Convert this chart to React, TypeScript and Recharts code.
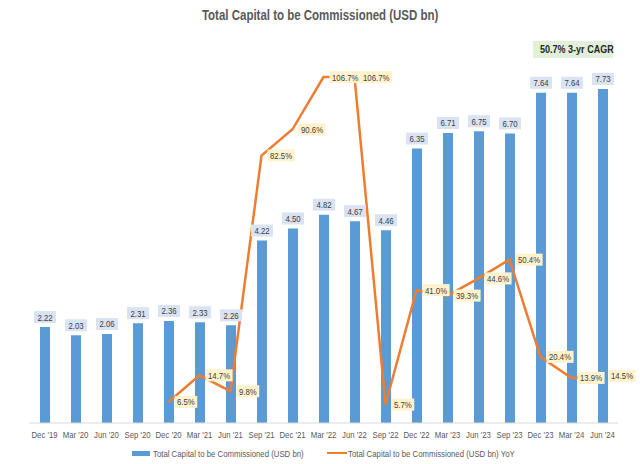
import React from 'react'
import { ComposedChart, Bar, Line, XAxis, YAxis, LabelList } from 'recharts'

const CATEGORIES = [
  "Dec '19", "Mar '20", "Jun '20", "Sep '20", "Dec '20", "Mar '21", "Jun '21",
  "Sep '21", "Dec '21", "Mar '22", "Jun '22", "Sep '22", "Dec '22", "Mar '23",
  "Jun '23", "Sep '23", "Dec '23", "Mar '24", "Jun '24",
]
const CAPITAL = [
  2.22, 2.03, 2.06, 2.31, 2.36, 2.33, 2.26, 4.22, 4.5, 4.82, 4.67, 4.46,
  6.35, 6.71, 6.75, 6.7, 7.64, 7.64, 7.73,
]
const YOY: (number | null)[] = [
  null, null, null, null, 6.5, 14.7, 9.8, 82.5, 90.6, 106.7, 106.7, 5.7,
  41.0, 39.3, 44.6, 50.4, 20.4, 13.9, 14.5,
]

const data = CATEGORIES.map((name, i) => ({ name, capital: CAPITAL[i], yoy: YOY[i] }))

// no narrow font installed, so squeeze Liberation Sans to roughly Calibri width
const FONT = "'Liberation Sans', Arial, sans-serif"
const SQ = 0.82
const BLUE = '#5B9BD5'
const ORANGE = '#ED7D31'
const TEXT = '#595959'
const LABEL = '#404040'

function Squeezed({ x, y, size, anchor = 'start', fill = LABEL, children }: any) {
  return (
    <text
      transform={`translate(${x},${y}) scale(${SQ},1)`}
      textAnchor={anchor}
      fontSize={size}
      fill={fill}
      fontFamily={FONT}
    >
      {children}
    </text>
  )
}

function BarValue(props: any) {
  const { x, y, width, value } = props
  if (value == null) return null
  const cx = Number(x) + Number(width) / 2
  const top = Number(y) - 16
  return (
    <g>
      <rect x={cx - 11} y={top} width={22} height={12} fill="#DAE3F3" />
      <Squeezed x={cx} y={top + 9.5} size={9.5} anchor="middle">
        {value.toFixed(2)}
      </Squeezed>
    </g>
  )
}

function YoyValue(props: any) {
  const { x, y, value } = props
  if (value == null) return null
  const label = `${value.toFixed(1)}%`
  const chars = label.length - 2
  const w = (chars * 0.556 + 0.278 + 0.889) * 9.5 * SQ + 5
  return (
    <g>
      <rect x={x + 6} y={y - 6} width={w} height={12} fill="#FFF2CC" />
      <Squeezed x={x + 8.5} y={y + 3.5} size={9.5}>
        {label}
      </Squeezed>
    </g>
  )
}

function Tick(props: any) {
  const { x, y, payload } = props
  return (
    <Squeezed x={x} y={y + 7} size={9.5} anchor="middle" fill={TEXT}>
      {payload.value}
    </Squeezed>
  )
}

const squeezeBox = { transform: `scaleX(${SQ})`, transformOrigin: 'left center', whiteSpace: 'nowrap' as const }

export default function App() {
  return (
    <div style={{ position: 'absolute', left: 0, top: 0, width: 640, height: 464, background: '#fff', fontFamily: FONT }}>
      <div style={{ position: 'absolute', left: 0, top: 6, width: 640, textAlign: 'center', fontSize: 14, lineHeight: '18px', fontWeight: 'bold', color: TEXT }}>
        <span style={{ display: 'inline-block', transform: `scaleX(${SQ})` }}>
          Total Capital to be Commissioned (USD bn)
        </span>
      </div>
      <div style={{ position: 'absolute', left: 533, top: 41, width: 80, height: 17, background: '#E2EFDA' }}>
        <div style={{ ...squeezeBox, position: 'absolute', left: 7, top: 0, color: '#262626', fontSize: 11, fontWeight: 'bold', lineHeight: '17px' }}>
          50.7% 3-yr CAGR
        </div>
      </div>
      <ComposedChart
        width={640}
        height={464}
        data={data}
        margin={{ top: 34, right: 22, bottom: 23, left: 29 }}
      >
        <XAxis
          dataKey="name"
          interval={0}
          height={18}
          tickLine={false}
          axisLine={{ stroke: '#D9D9D9' }}
          tick={<Tick />}
        />
        <YAxis yAxisId="left" hide domain={[0, 9]} />
        <YAxis yAxisId="right" hide orientation="right" domain={[0, 120]} />
        <Bar yAxisId="left" dataKey="capital" fill={BLUE} barSize={10} isAnimationActive={false}>
          <LabelList dataKey="capital" content={BarValue} />
        </Bar>
        <Line
          yAxisId="right"
          dataKey="yoy"
          type="linear"
          stroke={ORANGE}
          strokeWidth={2.5}
          dot={false}
          isAnimationActive={false}
        >
          <LabelList dataKey="yoy" content={YoyValue} />
        </Line>
      </ComposedChart>
      <div style={{ position: 'absolute', left: 132, top: 446, height: 14, display: 'flex', alignItems: 'center' }}>
        <span style={{ display: 'inline-block', width: 18, height: 5, background: BLUE, marginRight: 3 }} />
        <span style={{ ...squeezeBox, fontSize: 9.5, color: TEXT }}>Total Capital to be Commissioned (USD bn)</span>
      </div>
      <div style={{ position: 'absolute', left: 327, top: 446, height: 14, display: 'flex', alignItems: 'center' }}>
        <span style={{ display: 'inline-block', width: 20, height: 2.5, background: ORANGE, marginRight: 1 }} />
        <span style={{ ...squeezeBox, fontSize: 9.5, color: TEXT }}>Total Capital to be Commissioned (USD bn) YoY</span>
      </div>
    </div>
  )
}
